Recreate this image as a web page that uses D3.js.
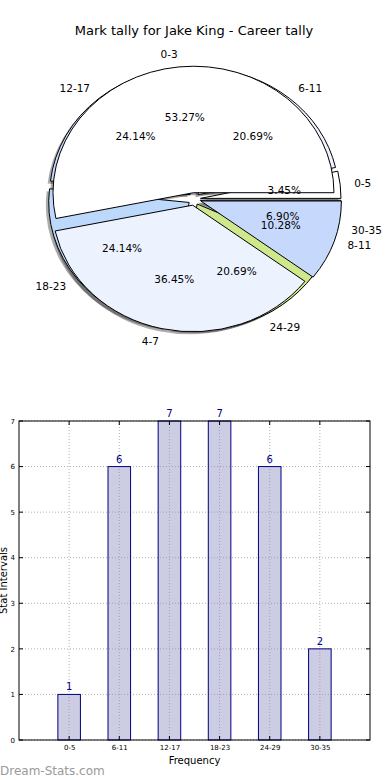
<!DOCTYPE html>
<html><head><meta charset="utf-8">
<script src="https://cdn.jsdelivr.net/npm/d3@7"></script>
<style>
body{margin:0;background:#fff;}
svg{display:block;font-family:"DejaVu Sans",sans-serif;}
</style></head><body>
<svg id="c" width="390" height="780"></svg>
<script>
const title = "Mark tally for Jake King - Career tally";
// outer pie (stat intervals)
const intervalCats = ["0-5","6-11","12-17","18-23","24-29","30-35"];
const intervalVals = [1,6,7,7,6,2];
const intervalColors = ["#ffffff","#eef3ff","#c6d9fd","#bcd8fa","#cfe88c","#e6e6f0"];
// inner pie (mark ranges)
const markCats = ["0-3","4-7","8-11"];
const markVals = [57,39,11];
const markColors = ["#ffffff","#ecf2fe","#c6d9fd"];
// bar chart
const barTicksY = [0,1,2,3,4,5,6,7];
const xLabel = "Frequency", yLabel = "Stat Intervals";

const svg = d3.select("#c");
svg.append("text").attr("x",194).attr("y",35).attr("text-anchor","middle")
  .attr("font-size",13).text(title);

const cx = 194.2, cy = 199, rx = 140.5, ry = 126.5;
const pie = d3.pie().sort(null).startAngle(Math.PI/2).endAngle(Math.PI/2 - 2*Math.PI);
const arc = d3.arc().innerRadius(0).outerRadius(1);
const gPie = svg.append("g");
const gShadow = gPie.append("g");
const gWedge = gPie.append("g");
const gText = gPie.append("g");

function drawPie(cats, vals, colors, explode){
  const arcs = pie(vals);
  const total = d3.sum(vals);
  arcs.forEach((a,i)=>{
    const mid = (a.startAngle + a.endAngle)/2;
    const ux = Math.sin(mid), uy = -Math.cos(mid);
    const ox = cx + explode*rx*ux, oy = cy + explode*ry*uy;
    gShadow.append("path").attr("d", arc(a))
      .attr("transform",`translate(${ox-0.02*rx},${oy+0.02*ry}) scale(${rx},${ry})`)
      .attr("fill","#000").attr("fill-opacity",0.33).attr("stroke","none");
    gWedge.append("path").attr("d", arc(a))
      .attr("transform",`translate(${ox},${oy}) scale(${rx},${ry})`)
      .attr("fill",colors[i]).attr("stroke","#000").attr("stroke-width",1)
      .attr("vector-effect","non-scaling-stroke");
    const lx = ox + 1.1*rx*ux, ly = oy + 1.1*ry*uy;
    gText.append("text").attr("x",lx).attr("y",ly).attr("dy","0.35em")
      .attr("text-anchor", ux>0?"start":"end").attr("font-size",10.5).text(cats[i]);
    const px = ox + 0.6*rx*ux, py = oy + 0.6*ry*uy;
    gText.append("text").attr("x",px).attr("y",py).attr("dy","0.35em")
      .attr("text-anchor","middle").attr("font-size",10.5)
      .text((vals[i]/total*100).toFixed(2)+"%");
  });
}
drawPie(intervalCats, intervalVals, intervalColors, 0.045);
drawPie(markCats, markVals, markColors, 0.05);

// bar chart
const L = 19, R = 370, T = 421, B = 740;
const x = d3.scaleLinear().domain([-1, intervalCats.length]).range([L, R]);
const y = d3.scaleLinear().domain([0, 7]).range([B, T]);
const gB = svg.append("g");
gB.selectAll(".gy").data(barTicksY).join("line")
  .attr("x1",L).attr("x2",R).attr("y1",d=>y(d)).attr("y2",d=>y(d))
  .attr("stroke","#b0b0b0").attr("stroke-dasharray","1,2").attr("stroke-width",1);
gB.selectAll(".gx").data(intervalCats).join("line")
  .attr("x1",(d,i)=>x(i)).attr("x2",(d,i)=>x(i)).attr("y1",T).attr("y2",B)
  .attr("stroke","#b0b0b0").attr("stroke-dasharray","1,2").attr("stroke-width",1);
const bw = 0.45;
gB.selectAll(".bar").data(intervalVals).join("rect")
  .attr("x",(d,i)=>x(i-bw/2)).attr("width",x(bw)-x(0))
  .attr("y",d=>y(d)).attr("height",d=>B-y(d))
  .attr("fill","#8f8fc2").attr("fill-opacity",0.45)
  .attr("stroke","#000080").attr("stroke-width",1);
gB.selectAll(".bl").data(intervalVals).join("text")
  .attr("x",(d,i)=>x(i)).attr("y",d=>y(d)-4).attr("text-anchor","middle")
  .attr("font-size",10).attr("fill","#00008b").text(d=>d);
gB.append("rect").attr("x",L).attr("y",T).attr("width",R-L).attr("height",B-T)
  .attr("fill","none").attr("stroke","#000").attr("stroke-width",1);
barTicksY.forEach(d=>{
  gB.append("line").attr("x1",L).attr("x2",L+4).attr("y1",y(d)).attr("y2",y(d)).attr("stroke","#000");
  gB.append("line").attr("x1",R-4).attr("x2",R).attr("y1",y(d)).attr("y2",y(d)).attr("stroke","#000");
});
intervalCats.forEach((d,i)=>{
  gB.append("line").attr("x1",x(i)).attr("x2",x(i)).attr("y1",B).attr("y2",B-4).attr("stroke","#000");
  gB.append("line").attr("x1",x(i)).attr("x2",x(i)).attr("y1",T).attr("y2",T+4).attr("stroke","#000");
});
const yAxis = d3.axisLeft(y).tickValues(barTicksY).tickFormat(d3.format("d")).tickSize(0).tickPadding(4);
gB.append("g").attr("transform",`translate(${L},0)`).call(yAxis)
  .call(g=>g.select(".domain").remove())
  .call(g=>g.selectAll("text").attr("font-size",7).attr("font-family","DejaVu Sans"));
const xAxis = d3.axisBottom(x).tickValues(d3.range(intervalCats.length)).tickFormat(i=>intervalCats[i]).tickSize(0).tickPadding(5);
gB.append("g").attr("transform",`translate(0,${B})`).call(xAxis)
  .call(g=>g.select(".domain").remove())
  .call(g=>g.selectAll("text").attr("font-size",7).attr("font-family","DejaVu Sans"));
svg.append("text").attr("x",(L+R)/2).attr("y",764).attr("text-anchor","middle").attr("font-size",10).text(xLabel);
svg.append("text").attr("transform",`translate(7,${(T+B)/2}) rotate(-90)`).attr("text-anchor","middle")
  .attr("font-size",10).text(yLabel);
svg.append("text").attr("x",0).attr("y",775).attr("font-size",12).attr("fill","#9a9a9a").text("Dream-Stats.com");
</script></body></html>
